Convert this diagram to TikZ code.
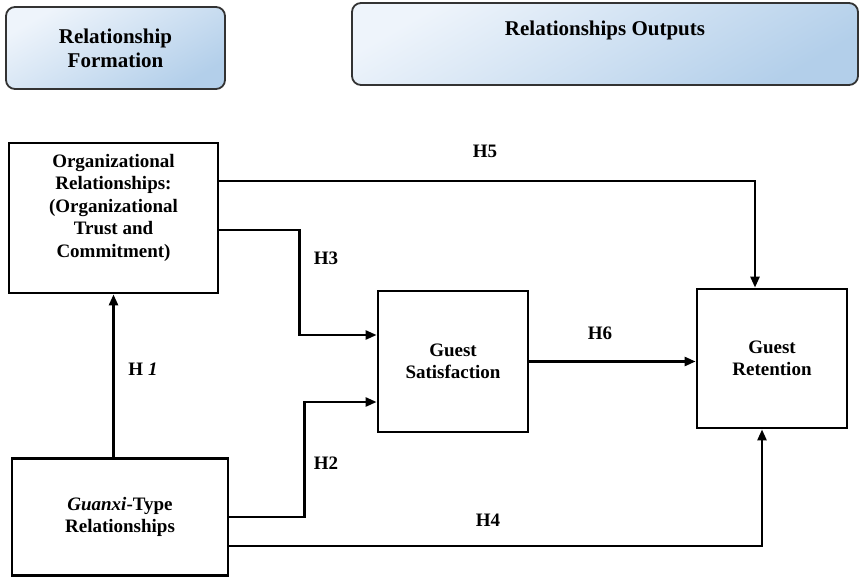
\documentclass[tikz,border=0pt]{standalone}
\usepackage{fontspec}
\setmainfont{Liberation Serif}
\usepackage{xcolor}
\usetikzlibrary{arrows.meta}
\definecolor{hdrlight}{HTML}{EEF4FB}
\definecolor{hdrdark}{HTML}{B3CFEA}

\begin{document}
\begin{tikzpicture}[x=1pt,y=-1pt,
    box/.style={draw, line width=2.8pt, align=center, inner sep=0pt, font=\fontsize{19}{22.5}\selectfont\bfseries},
    hdr/.style={draw=black!80, line width=1.8pt, rounded corners=9pt, top color=hdrlight, bottom color=hdrdark, shading angle=30, align=center, inner sep=0pt, font=\fontsize{21}{24}\selectfont\bfseries},
    arr/.style={line width=2.5pt, -{Triangle[length=11pt,width=9pt]}},
    hlab/.style={font=\fontsize{19}{22}\selectfont\bfseries}]
    \useasboundingbox (0,0) rectangle (859,578);
    \node[hdr, minimum width=219pt, minimum height=82pt] (form) at (115.5,48) {Relationship\\Formation};
    \node[hdr, minimum width=506pt, text height=33pt, text depth=49pt] (outp) at (605,44) {Relationships Outputs};
    \node[box, minimum width=209pt, minimum height=150pt, text depth=25pt] (org) at (113.5,218) {Organizational\\Relationships:\\(Organizational\\Trust and\\Commitment)};
    \node[box, minimum width=150pt, minimum height=141pt] (sat) at (453,361.5) {Guest\\Satisfaction};
    \node[box, minimum width=150pt, minimum height=139pt] (ret) at (772,358.5) {Guest\\Retention};
    \node[box, minimum width=216pt, minimum height=117pt] (gx) at (120,517) {\textit{Guanxi}-Type\\Relationships};
    \draw[arr] (gx.north -| org.south) -- (org.south);
    \draw[arr] ([yshift=37pt]org.east) -| ([xshift=-17pt]ret.north);
    \draw[arr] ([yshift=-12pt]org.east) -- ++(80,0) |- ([yshift=26.5pt]sat.west);
    \draw[arr] (gx.east) -- ++(75,0) |- ([yshift=-40.5pt]sat.west);
    \draw[arr] ([yshift=-29pt]gx.east) -| ([xshift=-10pt]ret.south);
    \draw[arr] (sat.east) -- (sat.east -| ret.west);
    \node[hlab] (h5) at (485,151) {H5};
    \node[hlab] (h3) at (326,258) {H3};
    \node[hlab] (h1) at (143,369) {H \textit{1}};
    \node[hlab] (h6) at (600,333) {H6};
    \node[hlab] (h2) at (326,463) {H2};
    \node[hlab] (h4) at (488,520) {H4};
\end{tikzpicture}
\end{document}
